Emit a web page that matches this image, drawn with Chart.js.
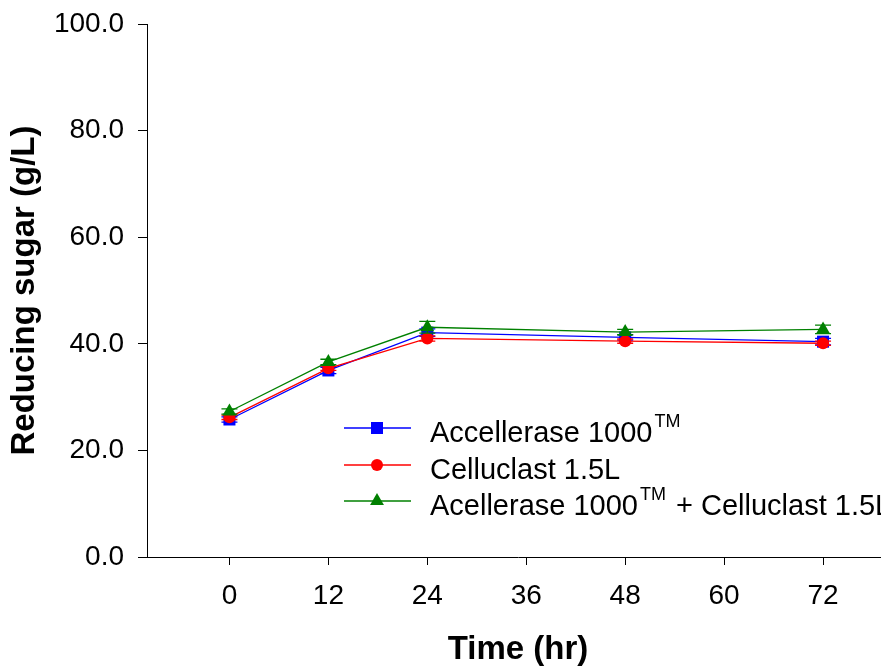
<!DOCTYPE html>
<html>
<head>
<meta charset="utf-8">
<style>
  html, body { margin: 0; padding: 0; overflow: hidden; background: #fff; }
  #wrap { width: 900px; height: 668px; position: relative; }
</style>
<script src="https://cdn.jsdelivr.net/npm/chart.js@4/dist/chart.umd.min.js"></script>
</head>
<body>
<div id="wrap"><canvas id="c"></canvas></div>
<script>
// Hydrolysis time (hr) and reducing sugar (g/L), mean and error
const hours = [0, 12, 24, 48, 72];
const accellerase = [25.8, 35.0, 42.1, 41.2, 40.4];
const accelleraseErr = [0.5, 0.6, 0.7, 0.5, 0.6];
const celluclast = [26.2, 35.4, 41.0, 40.5, 40.1];
const celluclastErr = [0.4, 0.4, 0.5, 0.4, 0.4];
const blend = [27.3, 36.6, 43.1, 42.2, 42.7];
const blendErr = [0.5, 0.5, 1.1, 0.5, 0.8];

const xTicks = [0, 12, 24, 36, 48, 60, 72];
const yTicks = [0, 20, 40, 60, 80, 100];

// Legend entries: plain text pieces and superscripts
const legendEntries = [
  [{ t: 'Accellerase 1000' }, { sup: 'TM' }],
  [{ t: 'Celluclast 1.5L' }],
  [{ t: 'Acellerase 1000' }, { sup: 'TM' }, { t: ' + Celluclast 1.5L' }]
];

const FONT = "'Liberation Sans', Arial, Helvetica, sans-serif";

function pairs(xs, ys) { return xs.map((x, i) => ({ x: x, y: ys[i] })); }

const series = [
  { data: accellerase, err: accelleraseErr, color: '#0000ff', style: 'rect', radius: 8.5, order: 2 },
  { data: celluclast, err: celluclastErr, color: '#ff0000', style: 'circle', radius: 6, order: 1 },
  { data: blend, err: blendErr, color: '#008000', style: 'triangle', radius: 8, order: 0 }
];

function drawMarker(ctx, style, color, x, y, r) {
  ctx.save();
  ctx.fillStyle = color;
  ctx.beginPath();
  if (style === 'rect') {
    const s = r * Math.SQRT1_2;
    ctx.rect(x - s, y - s, 2 * s, 2 * s);
  } else if (style === 'circle') {
    ctx.arc(x, y, r, 0, Math.PI * 2);
  } else {
    ctx.moveTo(x, y - r);
    ctx.lineTo(x + r * Math.sin(Math.PI * 2 / 3), y + r * 0.5);
    ctx.lineTo(x - r * Math.sin(Math.PI * 2 / 3), y + r * 0.5);
    ctx.closePath();
  }
  ctx.fill();
  ctx.restore();
}

// Vertical error bars with caps, drawn under each series' markers
const errorBars = {
  id: 'errorBars',
  beforeDatasetDraw(chart, args) {
    const s = series[args.index];
    const ys = chart.scales.y;
    const ctx = chart.ctx;
    ctx.save();
    ctx.strokeStyle = s.color;
    ctx.lineWidth = 1.3;
    args.meta.data.forEach((pt, i) => {
      const top = ys.getPixelForValue(s.data[i] + s.err[i]);
      const bot = ys.getPixelForValue(s.data[i] - s.err[i]);
      ctx.beginPath();
      ctx.moveTo(pt.x, top); ctx.lineTo(pt.x, bot);
      ctx.moveTo(pt.x - 8, top); ctx.lineTo(pt.x + 8, top);
      ctx.moveTo(pt.x - 8, bot); ctx.lineTo(pt.x + 8, bot);
      ctx.stroke();
    });
    ctx.restore();
  }
};

// In-plot legend with superscript trademark marks
const inlineLegend = {
  id: 'inlineLegend',
  afterDraw(chart) {
    const ctx = chart.ctx;
    const a = chart.chartArea;
    const lineX0 = a.left + 197, lineX1 = a.left + 264, markX = a.left + 230, textX = a.left + 283;
    const rows = [a.top + 404, a.top + 441, a.top + 477];
    ctx.save();
    series.forEach((s, i) => {
      const y = rows[i];
      ctx.strokeStyle = s.color;
      ctx.lineWidth = 1.3;
      ctx.beginPath();
      ctx.moveTo(lineX0, y); ctx.lineTo(lineX1, y);
      ctx.stroke();
      drawMarker(ctx, s.style, s.color, markX, y, s.radius);
      let x = textX;
      const base = y + 13.5;
      ctx.fillStyle = '#000';
      ctx.textBaseline = 'alphabetic';
      ctx.textAlign = 'left';
      legendEntries[i].forEach(p => {
        if (p.sup) {
          ctx.font = '18px ' + FONT;
          ctx.fillText(p.sup, x + 2, base - 15);
          x += ctx.measureText(p.sup).width + 4;
        } else {
          ctx.font = '29px ' + FONT;
          ctx.fillText(p.t, x, base);
          x += ctx.measureText(p.t).width;
        }
      });
    });
    ctx.restore();
  }
};

new Chart(document.getElementById('c'), {
  type: 'line',
  data: {
    datasets: series.map((s, i) => ({
      label: legendEntries[i].map(p => p.t || p.sup).join(''),
      data: pairs(hours, s.data),
      borderColor: s.color,
      backgroundColor: s.color,
      borderWidth: 1.3,
      pointStyle: s.style,
      pointRadius: s.radius,
      pointBorderWidth: 0,
      pointHoverRadius: s.radius,
      tension: 0,
      fill: false,
      order: s.order
    }))
  },
  options: {
    responsive: true,
    maintainAspectRatio: false,
    animation: false,
    events: [],
    layout: { padding: { left: 0, top: 24, right: 11, bottom: 0 } },
    plugins: { legend: { display: false }, tooltip: { enabled: false } },
    scales: {
      x: {
        type: 'linear',
        min: -10,
        max: 80,
        afterBuildTicks(scale) { scale.ticks = xTicks.map(v => ({ value: v })); },
        afterFit(scale) { scale.height = 111; scale.paddingLeft = 0; scale.paddingRight = 0; },
        grid: { drawOnChartArea: false, drawTicks: true, tickLength: 8, color: '#000', lineWidth: 1 },
        border: { display: true, color: '#000', width: 1 },
        ticks: { color: '#000', font: { family: FONT, size: 28 }, padding: 14, maxRotation: 0, autoSkip: false },
        title: { display: true, text: 'Time (hr)', color: '#000', font: { family: FONT, size: 33, weight: 'bold', lineHeight: 1.1 }, padding: { top: 0, bottom: 0 } }
      },
      y: {
        type: 'linear',
        min: 0,
        max: 100,
        afterBuildTicks(scale) { scale.ticks = yTicks.map(v => ({ value: v })); },
        afterFit(scale) { scale.width = 147; scale.paddingTop = 0; scale.paddingBottom = 0; },
        grid: { drawOnChartArea: false, drawTicks: true, tickLength: 9, color: '#000', lineWidth: 1 },
        border: { display: true, color: '#000', width: 1 },
        ticks: { color: '#000', font: { family: FONT, size: 28 }, padding: 14, callback: v => Number(v).toFixed(1) },
        title: { display: true, text: 'Reducing sugar (g/L)', color: '#000', font: { family: FONT, size: 33, weight: 'bold' }, padding: { top: 5, bottom: 0 } }
      }
    }
  },
  plugins: [errorBars, inlineLegend]
});
</script>
</body>
</html>
